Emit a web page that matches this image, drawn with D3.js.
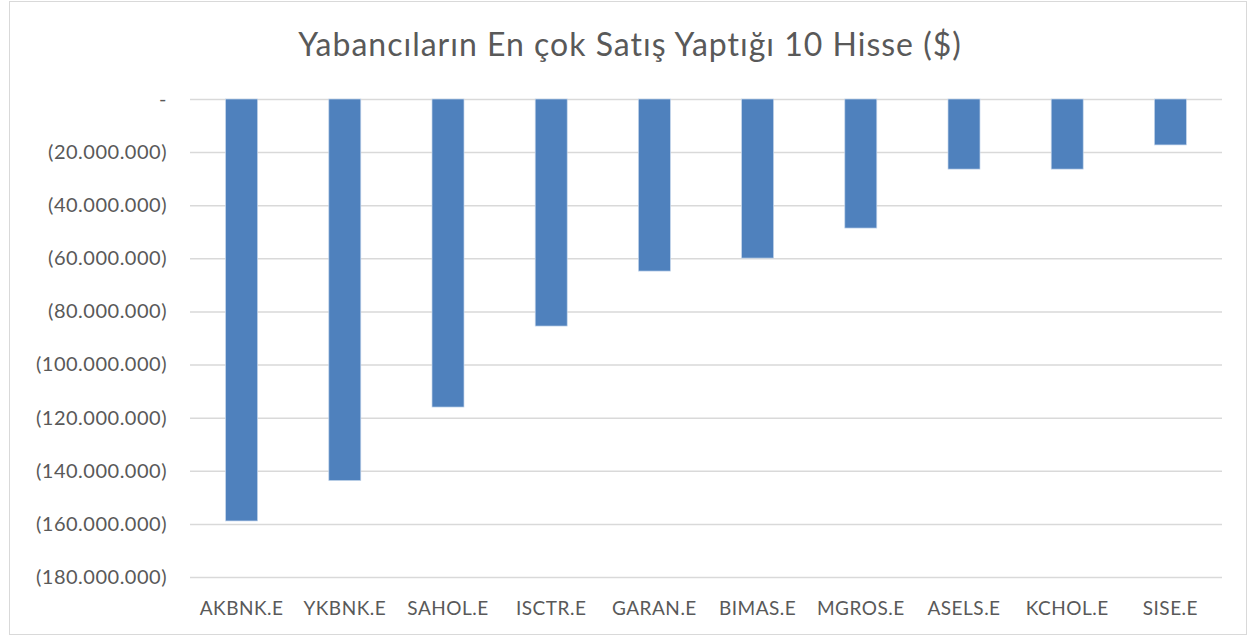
<!DOCTYPE html>
<html>
<head>
<meta charset="utf-8">
<script src="https://cdn.jsdelivr.net/npm/d3@7"></script>
<style>
  body { margin: 0; background: #fff; }
  svg text { font-family: Lato, "Open Sans", sans-serif; fill: #595959; }
</style>
</head>
<body>
<svg id="chart" width="1249" height="636"></svg>
<script>
const stocks = ['AKBNK.E', 'YKBNK.E', 'SAHOL.E', 'ISCTR.E', 'GARAN.E', 'BIMAS.E', 'MGROS.E', 'ASELS.E', 'KCHOL.E', 'SISE.E']
const netSales = [-158900000, -143700000, -116000000, -85500000, -64800000, -59900000, -48600000, -26400000, -26400000, -17300000]
const yTicks = [0, -20000000, -40000000, -60000000, -80000000, -100000000, -120000000, -140000000, -160000000, -180000000]
const title = 'Yabancıların En çok Satış Yaptığı 10 Hisse ($)'

const data = stocks.map((s, i) => ({ name: s, value: netSales[i] }))

const svg = d3.select('#chart')
const margin = { top: 99, right: 27, bottom: 59, left: 190 }
const width = 1249 - margin.left - margin.right,
      height = 636 - margin.top - margin.bottom

// outer chart border
svg.append('rect')
  .attr('x', 9.5).attr('y', 1.5)
  .attr('width', 1249 - 12).attr('height', 636 - 3)
  .attr('fill', 'none').attr('stroke', '#d9d9d9')

svg.append('text')
  .attr('x', 630).attr('y', 56)
  .attr('text-anchor', 'middle')
  .style('font-size', '32px')
  .style('letter-spacing', '1px')
  .text(title)

const g = svg.append('g').attr('transform', `translate(${margin.left},${margin.top})`)

const x = d3.scaleBand().domain(stocks).range([0, width]).paddingInner(0.69).paddingOuter(0.345)
const y = d3.scaleLinear().domain([0, -180000000]).range([0, height])

const fmt = v => v === 0 ? '-' : '(' + d3.format(',')(-v).replace(/,/g, '.') + ')'

const yAxis = g.append('g')
  .call(d3.axisLeft(y).tickValues(yTicks).tickSize(-width).tickPadding(23).tickFormat(fmt))
yAxis.select('.domain').remove()
yAxis.selectAll('line').attr('stroke', '#d9d9d9').attr('stroke-width', 1.5)
yAxis.selectAll('text').style('font-size', '20px').style('letter-spacing', '0.5px').attr('fill', '#595959')

g.selectAll('.bar').data(data).enter().append('rect')
  .attr('class', 'bar')
  .attr('x', d => x(d.name))
  .attr('width', x.bandwidth())
  .attr('y', y(0))
  .attr('height', d => y(d.value) - y(0))
  .attr('fill', '#4f81bd')
  .attr('stroke', '#c5d6ec').attr('stroke-width', 0.7)

const xAxis = g.append('g').attr('transform', `translate(0,${height})`)
  .call(d3.axisBottom(x).tickSize(0).tickPadding(25))
xAxis.select('.domain').remove()
xAxis.selectAll('text').style('font-size', '19px').style('letter-spacing', '0.5px').attr('fill', '#595959')
</script>
</body>
</html>
